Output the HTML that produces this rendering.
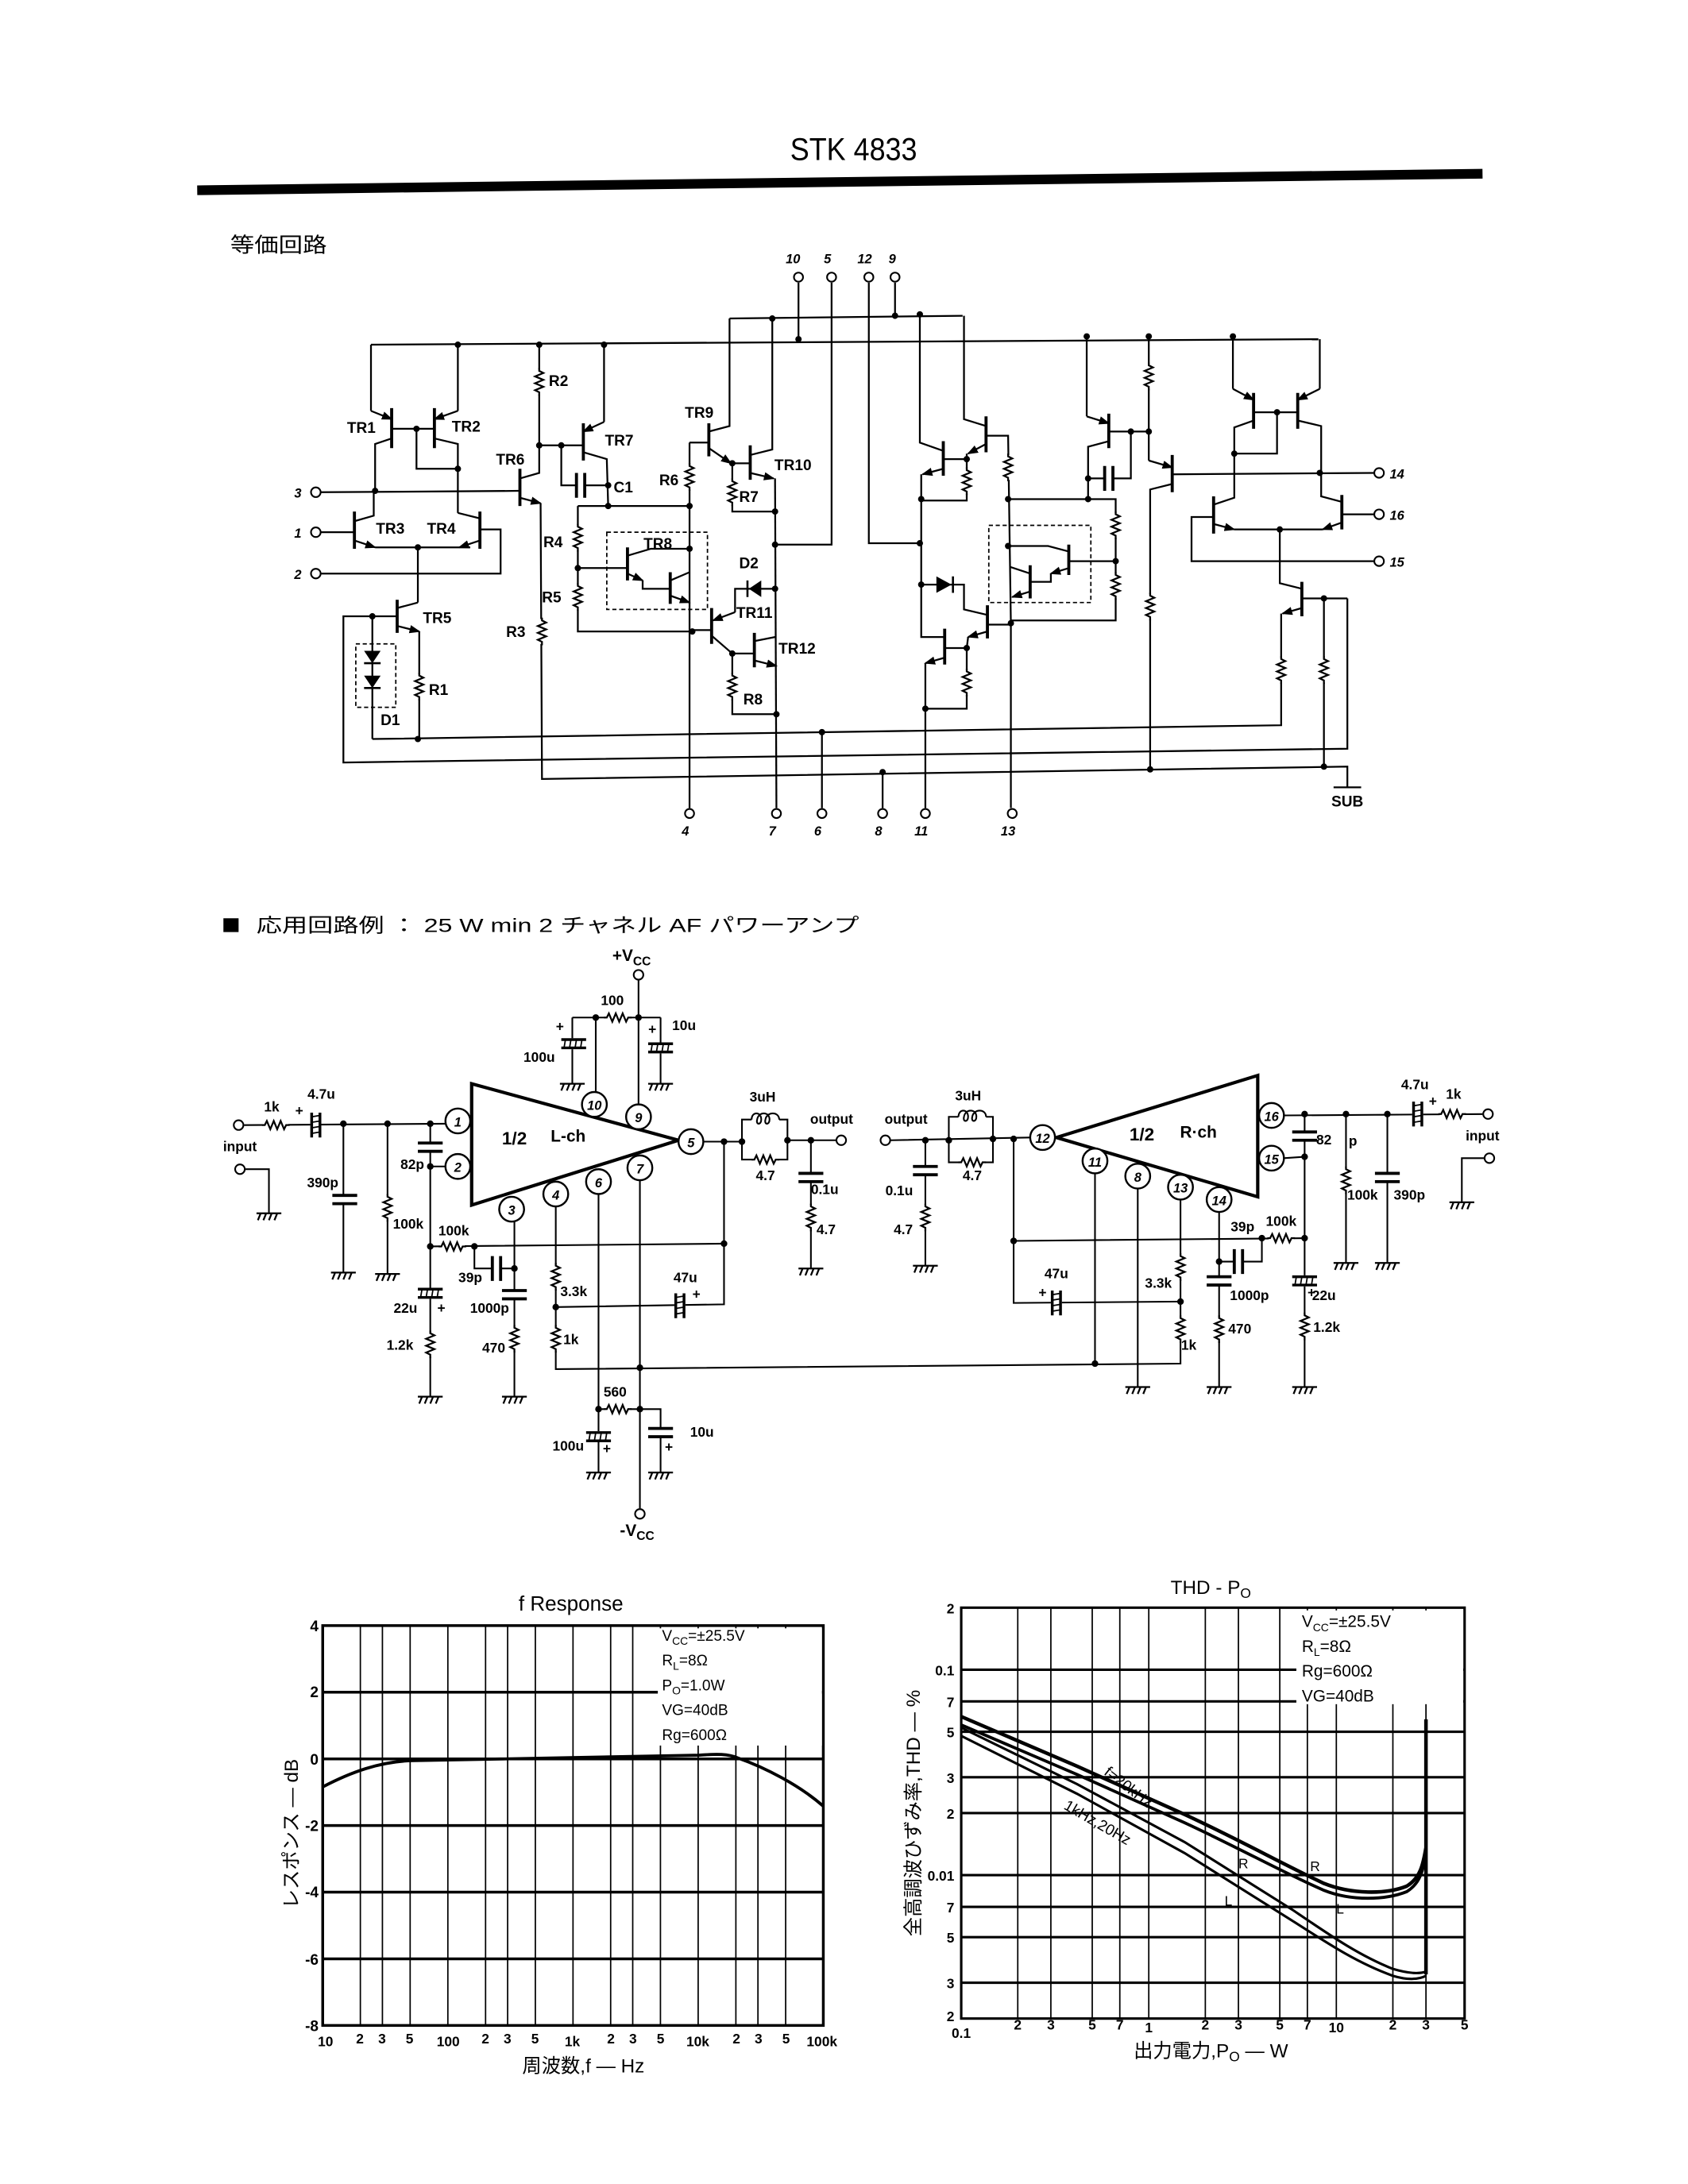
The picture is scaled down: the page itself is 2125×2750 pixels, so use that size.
<!DOCTYPE html>
<html><head><meta charset="utf-8"><style>
html,body{margin:0;padding:0;background:#fff;}
svg{display:block;}
text{font-family:"Liberation Sans","Noto Sans CJK JP",sans-serif;fill:#000;}
.l{font-size:11px;font-weight:bold;}
.p{font-size:9.5px;font-style:italic;font-weight:bold;}
.s{font-size:10px;font-weight:bold;}
.t{font-size:11px;}
</style></head><body>
<svg xmlns="http://www.w3.org/2000/svg" width="2125" height="2750" viewBox="0 0 1224 1584">
<defs>
<marker id="ar" markerWidth="8" markerHeight="8" refX="7" refY="4" orient="auto" markerUnits="userSpaceOnUse"><path d="M0,1 L8,4 L0,7 Z" fill="#000"/></marker>
<g id="rv"><rect x="-4" y="-9" width="8" height="18" fill="#fff" stroke="none"/><path d="M0,-10 L0,-8 L3,-6.5 L-3,-4 L3,-1.5 L-3,1 L3,3.5 L-3,6 L0,7.5 L0,10" fill="none" stroke="#000" stroke-width="1.3"/></g>
<g id="rh"><rect x="-9" y="-4" width="18" height="8" fill="#fff" stroke="none"/><path d="M-10,0 L-8,0 L-6.5,-3 L-4,3 L-1.5,-3 L1,3 L3.5,-3 L6,3 L7.5,0 L10,0" fill="none" stroke="#000" stroke-width="1.3"/></g>
<g id="cv"><rect x="-9" y="-3" width="18" height="6" fill="#fff" stroke="none"/><path d="M-9,-3 L9,-3 M-9,3 L9,3" stroke="#000" stroke-width="2.2"/></g>
<g id="ch"><rect x="-3" y="-9" width="6" height="18" fill="#fff" stroke="none"/><path d="M-3,-9 L-3,9 M3,-9 L3,9" stroke="#000" stroke-width="2.2"/></g>
<g id="ev"><rect x="-9" y="-4" width="18" height="8" fill="#fff" stroke="none"/><path d="M-9,-3 L9,-3 M-9,3 L9,3" stroke="#000" stroke-width="2"/><path d="M-6,-3 L-7,3 M-2,-3 L-3,3 M2,-3 L1,3 M6,-3 L5,3" stroke="#000" stroke-width="1"/></g>
<g id="eh"><rect x="-4" y="-9" width="8" height="18" fill="#fff" stroke="none"/><path d="M-3,-9 L-3,9 M3,-9 L3,9" stroke="#000" stroke-width="2"/><path d="M-3,-6 L3,-7 M-3,-2 L3,-3 M-3,2 L3,1 M-3,6 L3,5" stroke="#000" stroke-width="1"/></g>
<g id="gnd"><path d="M-9,0 L9,0 M-6,0 L-8,5 M-2,0 L-4,5 M2,0 L0,5 M6,0 L4,5" stroke="#000" stroke-width="1.3" fill="none"/></g>
<g id="ind"><rect x="-10" y="-5" width="20" height="9" fill="#fff" stroke="none"/><path d="M-10,0 C-10,-6 -3,-6 -3,0 C-3,4 -7,4 -6,0 C-5,-6 3,-6 3,0 C3,4 -1,4 0,0 C1,-6 10,-6 10,0" fill="none" stroke="#000" stroke-width="1.2"/></g>
</defs>

<!-- header -->
<text x="573" y="116" font-size="23" textLength="92" lengthAdjust="spacingAndGlyphs">STK 4833</text>
<path d="M143,138 L1075,126" stroke="#000" stroke-width="7"/>
<text x="167" y="183" font-size="15" textLength="70" lengthAdjust="spacingAndGlyphs">等価回路</text>

<!-- ================= top schematic ================= -->
<g fill="none" stroke="#000" stroke-width="1.3">
<path d="M269,250 L956,246"/>
<path d="M529,231 L698,229"/>
<path d="M579,205 L579,246 M603,205 L603,395 L562,395 M630,205 L630,394 L667,394 M649,205 L649,229"/>
<!-- TR1 TR2 -->
<path d="M284,296 L284,325 M315,296 L315,325" stroke-width="2.2"/>
<path d="M269,250 L269,298" /><path d="M269,298 L284,304" marker-end="url(#ar)"/>
<path d="M284,318 L272,322 L272,355"/>
<path d="M332,250 L332,298"/><path d="M332,298 L315,304" marker-end="url(#ar)"/>
<path d="M315,318 L332,322 L332,372"/>
<path d="M284,311 L315,311 M302,311 L302,340 L332,340"/>
<!-- pin3 line -->
<path d="M233,357 L377,356"/>
<!-- TR3 TR4 -->
<path d="M257,371 L257,398 M348,371 L348,398" stroke-width="2.2"/>
<path d="M257,378 L271,374 L271,355"/>
<path d="M257,392 L272,397" marker-end="url(#ar)"/>
<path d="M272,397 L341,397"/>
<path d="M233,386 L257,386"/>
<path d="M348,376 L332,372"/>
<path d="M348,392 L333,397" marker-end="url(#ar)"/>
<path d="M348,384 L363,384 L363,416 L233,416"/>
<path d="M303,397 L303,437"/>
<!-- TR5 -->
<path d="M288,435 L288,459" stroke-width="2.2"/>
<path d="M288,441 L303,437"/>
<path d="M288,454 L304,458" marker-end="url(#ar)"/>
<path d="M304,458 L304,536"/>
<path d="M288,447 L249,447 L249,553 L977,543 L977,434"/>
<path d="M270,447 L270,536"/>
<rect x="258" y="467" width="29" height="46" stroke-dasharray="3,2" stroke-width="1"/>
<path d="M270,536 L929,526 L929,445"/>
<!-- TR6 R2 R3 -->
<path d="M377,340 L377,367" stroke-width="2.2"/>
<path d="M391,250 L391,343 L377,347"/>
<path d="M377,361 L392,365" marker-end="url(#ar)"/>
<path d="M392,365 L393,565 L977,556 L977,571"/>
<path d="M967,571 L987,571"/>
<!-- TR7 C1 -->
<path d="M423,307 L423,334" stroke-width="2.2"/>
<path d="M391,323 L423,323"/>
<path d="M438,250 L438,306"/><path d="M438,306 L423,313" marker-end="url(#ar)"/>
<path d="M423,328 L440,333 L441,367"/>
<path d="M407,323 L407,352 L441,352"/>
<path d="M419,367 L500,367 M419,367 L419,458 L502,458"/>
<rect x="440" y="386" width="73" height="56" stroke-dasharray="3,2" stroke-width="1"/>
<!-- TR8 -->
<path d="M455,397 L455,421 M486,415 L486,438" stroke-width="2.2"/>
<path d="M419,412 L455,412"/>
<path d="M455,403 L472,398 L500,398"/>
<path d="M455,416 L466,421" marker-end="url(#ar)"/>
<path d="M466,421 L466,427 L486,427"/>
<path d="M486,421 L500,415"/>
<path d="M486,432 L500,437" marker-end="url(#ar)"/>
<path d="M500,321 L500,586 M500,321 L514,321"/>
<!-- TR9 TR10 -->
<path d="M514,307 L514,331 M544,323 L544,348" stroke-width="2.2"/>
<path d="M514,313 L529,309 L529,231"/>
<path d="M514,325 L530,336" marker-end="url(#ar)"/>
<path d="M531,336 L544,336 M531,336 L531,371 L562,371"/>
<path d="M544,330 L560,326 L560,231"/>
<path d="M544,343 L561,347" marker-end="url(#ar)"/>
<path d="M562,347 L563,586"/>
<!-- D2 TR11 TR12 -->
<path d="M562,427 L533,427 L533,444"/>
<path d="M533,444 L517,450" marker-end="url(#ar)"/>
<path d="M516,441 L516,467 M547,459 L547,484" stroke-width="2.2"/>
<path d="M502,457 L516,457"/>
<path d="M516,461 L531,474 L547,474 M531,474 L531,518 L563,518"/>
<path d="M547,465 L562,462"/>
<path d="M547,479 L563,483" marker-end="url(#ar)"/>
<path d="M596,531 L596,586 M640,561 L640,586 M671,514 L671,586 M733,452 L733,586"/>
<!-- right mirror -->
<path d="M684,320 L684,345 M715,302 L715,328 M685,456 L685,482 M716,439 L716,463 M775,395 L775,417 M747,410 L747,434" stroke-width="2.2"/>
<path d="M667,228 L667,321 L684,327"/>
<path d="M684,340 L669,344" marker-end="url(#ar)"/>
<path d="M668,344 L668,462 L685,462"/>
<path d="M684,333 L701,333 L701,363 L668,363"/>
<path d="M715,309 L699,304 L699,229"/>
<path d="M715,322 L702,329" marker-end="url(#ar)"/>
<path d="M701,329 L701,333"/>
<path d="M715,316 L731,316 L733,452"/>
<path d="M731,362 L809,362 L809,450 L733,450"/>
<path d="M668,424 L699,424 L699,442 L716,446"/>
<path d="M716,458 L702,462" marker-end="url(#ar)"/>
<path d="M702,462 L701,470 L685,470 M701,470 L701,514 L671,514"/>
<path d="M716,453 L733,453"/>
<path d="M685,477 L671,481" marker-end="url(#ar)"/>
<path d="M671,481 L671,514"/>
<rect x="717" y="381" width="74" height="56" stroke-dasharray="3,2" stroke-width="1"/>
<path d="M775,407 L809,407"/>
<path d="M775,400 L760,396 L731,396"/>
<path d="M775,412 L762,416" marker-end="url(#ar)"/>
<path d="M762,416 L762,422 L747,422"/>
<path d="M747,416 L732,411"/>
<path d="M747,429 L734,433" marker-end="url(#ar)"/>
<!-- G, H -->
<path d="M804,300 L804,325 M850,330 L850,357" stroke-width="2.2"/>
<path d="M788,244 L788,302"/><path d="M788,302 L804,307" marker-end="url(#ar)"/>
<path d="M804,320 L789,324 L789,362"/>
<path d="M789,347 L820,347 L820,313 M804,313 L833,313"/>
<path d="M833,244 L833,334"/><path d="M833,334 L850,339" marker-end="url(#ar)"/>
<path d="M850,351 L834,355 L834,558"/>
<path d="M850,344 L996,343"/>
<!-- top right pair -->
<path d="M909,285 L909,311 M941,285 L941,311 M880,360 L880,387 M973,359 L973,384 M944,422 L944,447" stroke-width="2.2"/>
<path d="M894,244 L894,282"/><path d="M894,282 L909,290" marker-end="url(#ar)"/>
<path d="M957,246 L957,282"/><path d="M957,282 L941,290" marker-end="url(#ar)"/>
<path d="M909,299 L941,299 M926,299 L926,329 L895,329"/>
<path d="M909,305 L895,310 L895,361 L880,366"/>
<path d="M941,305 L958,309 L958,360 L973,364"/>
<path d="M880,380 L895,384" marker-end="url(#ar)"/>
<path d="M973,379 L959,384" marker-end="url(#ar)"/>
<path d="M895,384 L959,384 M928,384 L928,423 L944,427"/>
<path d="M880,375 L864,375 L864,407 L996,407 M973,373 L996,373"/>
<path d="M944,441 L930,445" marker-end="url(#ar)"/>
<path d="M944,434 L977,434 M960,434 L960,556"/>
</g>
<!-- components top -->
<use href="#rv" x="304" y="498"/><use href="#rv" x="391" y="277"/><use href="#rv" x="393" y="458"/>
<use href="#rv" x="419" y="390"/><use href="#rv" x="419" y="433"/><use href="#rv" x="500" y="346"/>
<use href="#rv" x="531" y="357"/><use href="#rv" x="531" y="498"/>
<use href="#rv" x="701" y="349"/><use href="#rv" x="701" y="495"/><use href="#rv" x="731" y="339"/>
<use href="#rv" x="809" y="381"/><use href="#rv" x="809" y="425"/><use href="#rv" x="833" y="273"/>
<use href="#rv" x="834" y="440"/><use href="#rv" x="929" y="486"/><use href="#rv" x="960" y="486"/>
<use href="#ch" x="421" y="352"/><use href="#ch" x="804" y="347"/>
<g fill="#000">
<path d="M264,472 L276,472 L270,481 Z M264,490 L276,490 L270,499 Z"/>
<path d="M552,421 L552,433 L543,427 Z M679,418 L679,430 L690,424 Z"/>
</g>
<path d="M264,481 L276,481 M264,499 L276,499 M542,421 L542,433 M691,418 L691,430" stroke="#000" stroke-width="1.5"/>
<g fill="#000">
<circle cx="332" cy="250" r="2.3"/><circle cx="391" cy="250" r="2.3"/><circle cx="438" cy="250" r="2.3"/>
<circle cx="302" cy="311" r="2.3"/><circle cx="332" cy="340" r="2.3"/><circle cx="272" cy="356" r="2.3"/>
<circle cx="303" cy="397" r="2.3"/><circle cx="270" cy="447" r="2.3"/><circle cx="303" cy="536" r="2.3"/>
<circle cx="391" cy="323" r="2.3"/><circle cx="407" cy="323" r="2.3"/><circle cx="441" cy="352" r="2.3"/>
<circle cx="441" cy="367" r="2.3"/><circle cx="500" cy="367" r="2.3"/><circle cx="419" cy="412" r="2.3"/>
<circle cx="500" cy="398" r="2.3"/><circle cx="502" cy="458" r="2.3"/><circle cx="531" cy="336" r="2.3"/>
<circle cx="562" cy="371" r="2.3"/><circle cx="562" cy="395" r="2.3"/><circle cx="562" cy="427" r="2.3"/>
<circle cx="531" cy="474" r="2.3"/><circle cx="563" cy="518" r="2.3"/><circle cx="560" cy="231" r="2.3"/>
<circle cx="579" cy="246" r="2.3"/><circle cx="649" cy="229" r="2.3"/><circle cx="667" cy="228" r="2.3"/>
<circle cx="596" cy="531" r="2.3"/><circle cx="640" cy="560" r="2.3"/><circle cx="834" cy="558" r="2.3"/>
<circle cx="960" cy="556" r="2.3"/><circle cx="960" cy="434" r="2.3"/><circle cx="928" cy="384" r="2.3"/>
<circle cx="668" cy="362" r="2.3"/><circle cx="667" cy="394" r="2.3"/><circle cx="668" cy="424" r="2.3"/>
<circle cx="701" cy="333" r="2.3"/><circle cx="701" cy="470" r="2.3"/><circle cx="671" cy="514" r="2.3"/>
<circle cx="731" cy="362" r="2.3"/><circle cx="731" cy="396" r="2.3"/><circle cx="733" cy="452" r="2.3"/>
<circle cx="789" cy="362" r="2.3"/><circle cx="789" cy="347" r="2.3"/><circle cx="809" cy="407" r="2.3"/>
<circle cx="788" cy="244" r="2.3"/><circle cx="833" cy="244" r="2.3"/><circle cx="894" cy="244" r="2.3"/>
<circle cx="820" cy="313" r="2.3"/><circle cx="833" cy="313" r="2.3"/><circle cx="957" cy="343" r="2.3"/>
<circle cx="926" cy="299" r="2.3"/><circle cx="895" cy="329" r="2.3"/>
</g>
<g fill="#fff" stroke="#000" stroke-width="1.2">
<circle cx="579" cy="201" r="3.3"/><circle cx="603" cy="201" r="3.3"/><circle cx="630" cy="201" r="3.3"/><circle cx="649" cy="201" r="3.3"/>
<circle cx="229" cy="357" r="3.5"/><circle cx="229" cy="386" r="3.5"/><circle cx="229" cy="416" r="3.5"/>
<circle cx="1000" cy="343" r="3.5"/><circle cx="1000" cy="373" r="3.5"/><circle cx="1000" cy="407" r="3.5"/>
<circle cx="500" cy="590" r="3.3"/><circle cx="563" cy="590" r="3.3"/><circle cx="596" cy="590" r="3.3"/>
<circle cx="640" cy="590" r="3.3"/><circle cx="671" cy="590" r="3.3"/><circle cx="734" cy="590" r="3.3"/>
</g>
<g class="p" text-anchor="middle">
<text x="575" y="191">10</text><text x="600" y="191">5</text><text x="627" y="191">12</text><text x="647" y="191">9</text>
<text x="497" y="606">4</text><text x="560" y="606">7</text><text x="593" y="606">6</text><text x="637" y="606">8</text><text x="668" y="606">11</text><text x="731" y="606">13</text>
<text x="216" y="361">3</text><text x="216" y="390">1</text><text x="216" y="420">2</text>
<text x="1013" y="347">14</text><text x="1013" y="377">16</text><text x="1013" y="411">15</text>
</g>
<g class="l" text-anchor="middle">
<text x="262" y="314">TR1</text><text x="338" y="313">TR2</text><text x="283" y="387">TR3</text><text x="320" y="387">TR4</text>
<text x="317" y="452">TR5</text><text x="318" y="504">R1</text><text x="283" y="526">D1</text>
<text x="405" y="280">R2</text><text x="370" y="337">TR6</text><text x="449" y="323">TR7</text><text x="452" y="357">C1</text>
<text x="401" y="397">R4</text><text x="400" y="437">R5</text><text x="374" y="462">R3</text><text x="477" y="398">TR8</text>
<text x="507" y="303">TR9</text><text x="575" y="341">TR10</text><text x="485" y="352">R6</text><text x="543" y="364">R7</text>
<text x="543" y="412">D2</text><text x="547" y="448">TR11</text><text x="578" y="474">TR12</text><text x="546" y="511">R8</text>
<text x="977" y="585">SUB</text>
</g>

<!-- ================= application circuit ================= -->
<rect x="162" y="666" width="11" height="10" fill="#000"/>
<text x="186" y="676" font-size="14" textLength="437" lengthAdjust="spacingAndGlyphs">応用回路例 ： 25 W min 2 チャネル AF パワーアンプ</text>
<g fill="none" stroke="#000" stroke-width="1.2">
<path d="M342,786 L342,874 L492,827 Z" stroke-width="2.4" fill="#fff"/>
<path d="M912,780 L912,868 L766,825 Z" stroke-width="2.4" fill="#fff"/>
<!-- L-ch -->
<path d="M463,711 L463,801 M415,738 L479,738 M415,738 L415,786 M479,738 L479,786 M432,738 L432,792"/>
<path d="M177,816 L323,815 M249,815 L249,923 M281,815 L281,924 M312,815 L312,904"/>
<path d="M178,848 L195,848 L195,880"/>
<path d="M312,846 L323,846"/>
<path d="M312,904 L525,902 M344,904 L344,920 L373,920"/>
<path d="M312,904 L312,1013"/>
<path d="M373,886 L373,1013"/>
<path d="M403,875 L403,993 L856,989 L856,870 M403,948 L525,946 L525,828"/>
<path d="M434,866 L434,1068 M434,1022 L479,1022 L479,1068"/>
<path d="M464,856 L464,1094"/>
<path d="M510,828 L538,828 L538,812 L571,812 L571,841 L538,841 L538,828 M571,827 L606,827 M588,827 L588,920"/>
<!-- R-ch -->
<path d="M646,827 L747,825 M671,827 L671,918 M688,827 L688,810 L720,810 L720,843 L688,843 L688,827"/>
<path d="M735,826 L735,945 L856,944 M735,900 L946,898 M915,898 L915,915 L884,915"/>
<path d="M794,851 L794,989 M825,862 L825,1006 M884,879 L884,1006"/>
<path d="M931,809 L1075,808 M946,808 L946,1006 M931,840 L946,839 M976,808 L976,916 M1006,808 L1006,916"/>
<path d="M1076,840 L1060,840 L1060,872"/>
</g>
<use href="#rh" x="448" y="738"/><use href="#ev" x="416" y="757"/><use href="#ev" x="479" y="760"/>
<use href="#rh" x="200" y="816"/><use href="#eh" x="229" y="816"/><use href="#cv" x="250" y="870"/>
<use href="#rv" x="281" y="876"/><use href="#cv" x="312" y="832"/><use href="#rh" x="328" y="904"/>
<use href="#ch" x="360" y="920"/><use href="#ev" x="312" y="938"/><use href="#rv" x="312" y="975"/>
<use href="#cv" x="373" y="939"/><use href="#rv" x="373" y="971"/><use href="#rv" x="403" y="926"/>
<use href="#rv" x="403" y="971"/><use href="#eh" x="493" y="947"/><use href="#rh" x="448" y="1022"/>
<use href="#ev" x="434" y="1042"/><use href="#cv" x="479" y="1039"/>
<use href="#ind" x="555" y="812"/><use href="#rh" x="555" y="841"/><use href="#cv" x="588" y="854"/><use href="#rv" x="588" y="883"/>
<use href="#cv" x="671" y="849"/><use href="#rv" x="671" y="883"/><use href="#ind" x="705" y="810"/><use href="#rh" x="705" y="843"/>
<use href="#rh" x="929" y="898"/><use href="#ch" x="898" y="915"/><use href="#eh" x="766" y="945"/>
<use href="#rv" x="856" y="919"/><use href="#rv" x="856" y="964"/><use href="#cv" x="884" y="929"/><use href="#rv" x="884" y="964"/>
<use href="#eh" x="1028" y="808"/><use href="#rh" x="1053" y="808"/><use href="#cv" x="946" y="824"/>
<use href="#ev" x="946" y="929"/><use href="#rv" x="946" y="962"/><use href="#rv" x="976" y="856"/><use href="#cv" x="1006" y="854"/>
<use href="#gnd" x="415" y="786"/><use href="#gnd" x="479" y="786"/><use href="#gnd" x="195" y="880"/>
<use href="#gnd" x="249" y="923"/><use href="#gnd" x="281" y="924"/><use href="#gnd" x="312" y="1013"/><use href="#gnd" x="373" y="1013"/>
<use href="#gnd" x="434" y="1068"/><use href="#gnd" x="479" y="1068"/><use href="#gnd" x="588" y="920"/>
<use href="#gnd" x="671" y="918"/><use href="#gnd" x="825" y="1006"/><use href="#gnd" x="884" y="1006"/><use href="#gnd" x="946" y="1006"/>
<use href="#gnd" x="976" y="916"/><use href="#gnd" x="1006" y="916"/><use href="#gnd" x="1060" y="872"/>
<g fill="#000">
<circle cx="463" cy="738" r="2.4"/><circle cx="432" cy="738" r="2.4"/><circle cx="249" cy="815" r="2.4"/><circle cx="281" cy="815" r="2.4"/>
<circle cx="312" cy="815" r="2.4"/><circle cx="312" cy="846" r="2.4"/><circle cx="312" cy="904" r="2.4"/><circle cx="344" cy="904" r="2.4"/>
<circle cx="373" cy="920" r="2.4"/><circle cx="403" cy="948" r="2.4"/><circle cx="464" cy="992" r="2.4"/><circle cx="434" cy="1022" r="2.4"/>
<circle cx="464" cy="1022" r="2.4"/><circle cx="525" cy="828" r="2.4"/><circle cx="525" cy="902" r="2.4"/><circle cx="538" cy="828" r="2.4"/>
<circle cx="571" cy="827" r="2.4"/><circle cx="588" cy="827" r="2.4"/>
<circle cx="671" cy="827" r="2.4"/><circle cx="688" cy="827" r="2.4"/><circle cx="720" cy="826" r="2.4"/><circle cx="735" cy="826" r="2.4"/>
<circle cx="735" cy="900" r="2.4"/><circle cx="915" cy="898" r="2.4"/><circle cx="946" cy="898" r="2.4"/><circle cx="884" cy="915" r="2.4"/>
<circle cx="856" cy="944" r="2.4"/><circle cx="794" cy="989" r="2.4"/><circle cx="946" cy="808" r="2.4"/><circle cx="976" cy="808" r="2.4"/>
<circle cx="1006" cy="808" r="2.4"/><circle cx="946" cy="839" r="2.4"/>
</g>
<g fill="#fff" stroke="#000" stroke-width="1.4">
<circle cx="332" cy="813" r="9"/><circle cx="332" cy="846" r="9"/><circle cx="431" cy="801" r="9"/><circle cx="463" cy="810" r="9"/>
<circle cx="501" cy="828" r="9"/><circle cx="371" cy="877" r="9"/><circle cx="403" cy="866" r="9"/><circle cx="434" cy="857" r="9"/><circle cx="464" cy="847" r="9"/>
<circle cx="756" cy="825" r="9"/><circle cx="794" cy="842" r="9"/><circle cx="825" cy="853" r="9"/><circle cx="856" cy="861" r="9"/>
<circle cx="884" cy="870" r="9"/><circle cx="922" cy="809" r="9"/><circle cx="922" cy="840" r="9"/>
</g>
<g fill="#fff" stroke="#000" stroke-width="1.2">
<circle cx="463" cy="707" r="3.5"/><circle cx="464" cy="1098" r="3.5"/><circle cx="173" cy="816" r="3.5"/><circle cx="174" cy="848" r="3.5"/>
<circle cx="610" cy="827" r="3.5"/><circle cx="642" cy="827" r="3.5"/><circle cx="1079" cy="808" r="3.5"/><circle cx="1080" cy="840" r="3.5"/>
</g>
<g class="p" text-anchor="middle" font-size="9">
<text x="332" y="817">1</text><text x="332" y="850">2</text><text x="431" y="805">10</text><text x="463" y="814">9</text>
<text x="501" y="832">5</text><text x="371" y="881">3</text><text x="403" y="870">4</text><text x="434" y="861">6</text><text x="464" y="851">7</text>
<text x="756" y="829">12</text><text x="794" y="846">11</text><text x="825" y="857">8</text><text x="856" y="865">13</text>
<text x="884" y="874">14</text><text x="922" y="813">16</text><text x="922" y="844">15</text>
</g>
<g class="s" text-anchor="middle">
<text x="458" y="697" font-size="12">+V<tspan font-size="9" dy="3">CC</tspan></text>
<text x="462" y="1114" font-size="12">-V<tspan font-size="9" dy="3">CC</tspan></text>
<text x="444" y="729">100</text><text x="391" y="770">100u</text><text x="406" y="748">+</text><text x="496" y="747">10u</text><text x="473" y="750">+</text>
<text x="197" y="806">1k</text><text x="233" y="797">4.7u</text><text x="217" y="809">+</text><text x="174" y="835">input</text>
<text x="234" y="861">390p</text><text x="296" y="891">100k</text><text x="299" y="848">82p</text><text x="329" y="896">100k</text>
<text x="341" y="930">39p</text><text x="294" y="952">22u</text><text x="320" y="952">+</text><text x="290" y="979">1.2k</text>
<text x="355" y="952">1000p</text><text x="358" y="981">470</text><text x="416" y="940">3.3k</text><text x="414" y="975">1k</text>
<text x="497" y="930">47u</text><text x="505" y="942">+</text><text x="446" y="1013">560</text><text x="412" y="1052">100u</text><text x="440" y="1054">+</text>
<text x="509" y="1042">10u</text><text x="485" y="1053">+</text>
<text x="373" y="830" font-size="13">1/2</text><text x="412" y="828" font-size="12">L-ch</text>
<text x="553" y="799">3uH</text><text x="555" y="856">4.7</text><text x="603" y="815">output</text><text x="598" y="866">0.1u</text><text x="599" y="895">4.7</text>
<text x="657" y="815">output</text><text x="652" y="867">0.1u</text><text x="655" y="895">4.7</text><text x="702" y="798">3uH</text><text x="705" y="856">4.7</text>
<text x="828" y="827" font-size="13">1/2</text><text x="869" y="825" font-size="12">R·ch</text>
<text x="929" y="889">100k</text><text x="901" y="893">39p</text><text x="766" y="927">47u</text><text x="756" y="941">+</text>
<text x="840" y="934">3.3k</text><text x="862" y="979">1k</text><text x="906" y="943">1000p</text><text x="899" y="967">470</text>
<text x="1026" y="790">4.7u</text><text x="1039" y="802">+</text><text x="1054" y="797">1k</text><text x="1075" y="827">input</text>
<text x="960" y="830">82</text><text x="981" y="831">p</text><text x="960" y="943">22u</text><text x="951" y="941">+</text><text x="962" y="966">1.2k</text>
<text x="988" y="870">100k</text><text x="1022" y="870">390p</text>
</g>

<!-- ================= left chart ================= -->
<g stroke="#000" fill="none">
<g stroke-width="1">
<path d="M261.3,1179V1469 M277.3,1179V1469 M297.4,1179V1469 M324.75,1179V1469 M352.1,1179V1469 M368.1,1179V1469 M388.2,1179V1469 M415.5,1179V1469 M442.8,1179V1469 M458.8,1179V1469 M478.9,1179V1469 M506.25,1179V1469 M533.6,1179V1469 M549.6,1179V1469 M569.7,1179V1469"/>
</g>
<g stroke-width="2">
<path d="M234,1227.3H597 M234,1275.7H597 M234,1324H597 M234,1372.3H597 M234,1420.7H597"/>
<rect x="234" y="1179" width="363" height="290"/>
</g>
</g>
<rect x="477" y="1181" width="119" height="85" fill="#fff"/>
<path d="M234,1296 C255,1285 275,1278 297,1277 L507,1273 C520,1272 528,1272 535,1275 C555,1282 580,1295 597,1310" stroke="#000" stroke-width="2.2" fill="none"/>
<text x="414" y="1168" text-anchor="middle" font-size="15">f Response</text>
<g class="t" font-size="12">
<text x="480" y="1190">V<tspan font-size="8" dy="3">CC</tspan><tspan dy="-3">=±25.5V</tspan></text>
<text x="480" y="1208">R<tspan font-size="8" dy="3">L</tspan><tspan dy="-3">=8Ω</tspan></text>
<text x="480" y="1226">P<tspan font-size="8" dy="3">O</tspan><tspan dy="-3">=1.0W</tspan></text>
<text x="480" y="1244">VG=40dB</text>
<text x="480" y="1262">Rg=600Ω</text>
</g>
<g font-size="11" font-weight="bold" text-anchor="end">
<text x="231" y="1183">4</text><text x="231" y="1231">2</text><text x="231" y="1280">0</text><text x="231" y="1328">-2</text>
<text x="231" y="1376">-4</text><text x="231" y="1425">-6</text><text x="231" y="1473">-8</text>
</g>
<g font-size="10" font-weight="bold" text-anchor="middle">
<text x="236" y="1484">10</text><text x="261" y="1482">2</text><text x="277" y="1482">3</text><text x="297" y="1482">5</text>
<text x="325" y="1484">100</text><text x="352" y="1482">2</text><text x="368" y="1482">3</text><text x="388" y="1482">5</text>
<text x="415" y="1484">1k</text><text x="443" y="1482">2</text><text x="459" y="1482">3</text><text x="479" y="1482">5</text>
<text x="506" y="1484">10k</text><text x="534" y="1482">2</text><text x="550" y="1482">3</text><text x="570" y="1482">5</text>
<text x="596" y="1484">100k</text>
</g>
<text x="423" y="1503" text-anchor="middle" font-size="14">周波数,f — Hz</text>
<text transform="translate(216,1330) rotate(-90)" text-anchor="middle" font-size="14">レスポンス — dB</text>

<!-- ================= right chart ================= -->
<g stroke="#000" fill="none">
<g stroke-width="1">
<path d="M738,1166V1464 M762,1166V1464 M792,1166V1464 M812,1166V1464 M833,1166V1464 M874,1166V1464 M898,1166V1464 M928,1166V1464 M948,1166V1464 M969,1166V1464 M1010,1166V1464 M1034,1166V1464"/>
</g>
<g stroke-width="1.8">
<path d="M697,1211H1062 M697,1234H1062 M697,1256H1062 M697,1289H1062 M697,1315H1062 M697,1360H1062 M697,1383H1062 M697,1405H1062 M697,1438H1062"/>
<rect x="697" y="1166" width="365" height="298"/>
</g>
</g>
<rect x="940" y="1168" width="121" height="68" fill="#fff"/>
<g fill="none" stroke="#000">
<path d="M697,1245 L781,1281 L859,1316 C900,1335 930,1352 960,1366 C980,1374 1005,1374 1020,1368 C1030,1362 1032,1352 1034,1340 L1034,1247 L1034,1432" stroke-width="2.6"/>
<path d="M697,1251 L781,1287 L859,1322 C900,1341 930,1358 960,1371 C980,1379 1005,1378 1020,1372 C1028,1367 1031,1360 1033,1350" stroke-width="2.2"/>
<path d="M697,1253 L781,1294 L859,1336 L937,1385 C965,1404 985,1418 1010,1428 C1020,1431 1028,1432 1034,1430" stroke-width="1.8"/>
<path d="M697,1259 L781,1301 L859,1344 L937,1393 C965,1411 985,1424 1010,1433 C1020,1436 1028,1436 1034,1433" stroke-width="1.8"/>
</g>
<text x="878" y="1156" text-anchor="middle" font-size="14">THD - P<tspan font-size="10" dy="3">O</tspan></text>
<g font-size="12">
<text x="944" y="1180">V<tspan font-size="8" dy="3">CC</tspan><tspan dy="-3">=±25.5V</tspan></text>
<text x="944" y="1198">R<tspan font-size="8" dy="3">L</tspan><tspan dy="-3">=8Ω</tspan></text>
<text x="944" y="1216">Rg=600Ω</text>
<text x="944" y="1234">VG=40dB</text>
</g>
<text transform="translate(816,1299) rotate(38)" text-anchor="middle" font-size="11">f=20kHz</text>
<text transform="translate(794,1325) rotate(30)" text-anchor="middle" font-size="11">1kHz,20Hz</text>
<g font-size="10"><text x="950" y="1357">R</text><text x="898" y="1355">R</text><text x="969" y="1388">L</text><text x="888" y="1382">L</text></g>
<g font-size="10" font-weight="bold" text-anchor="end">
<text x="692" y="1170">2</text><text x="692" y="1215">0.1</text><text x="692" y="1238">7</text><text x="692" y="1260">5</text>
<text x="692" y="1293">3</text><text x="692" y="1319">2</text><text x="692" y="1364">0.01</text><text x="692" y="1387">7</text>
<text x="692" y="1409">5</text><text x="692" y="1442">3</text><text x="692" y="1466">2</text>
</g>
<g font-size="10" font-weight="bold" text-anchor="middle">
<text x="697" y="1478">0.1</text><text x="738" y="1472">2</text><text x="762" y="1472">3</text><text x="792" y="1472">5</text><text x="812" y="1472">7</text>
<text x="833" y="1474">1</text><text x="874" y="1472">2</text><text x="898" y="1472">3</text><text x="928" y="1472">5</text><text x="948" y="1472">7</text>
<text x="969" y="1474">10</text><text x="1010" y="1472">2</text><text x="1034" y="1472">3</text><text x="1062" y="1472">5</text>
</g>
<text x="878" y="1492" text-anchor="middle" font-size="14">出力電力,P<tspan font-size="10" dy="3">O</tspan><tspan dy="-3"> — W</tspan></text>
<text transform="translate(667,1315) rotate(-90)" text-anchor="middle" font-size="14">全高調波ひずみ率,THD — %</text>
</svg>
</body></html>
